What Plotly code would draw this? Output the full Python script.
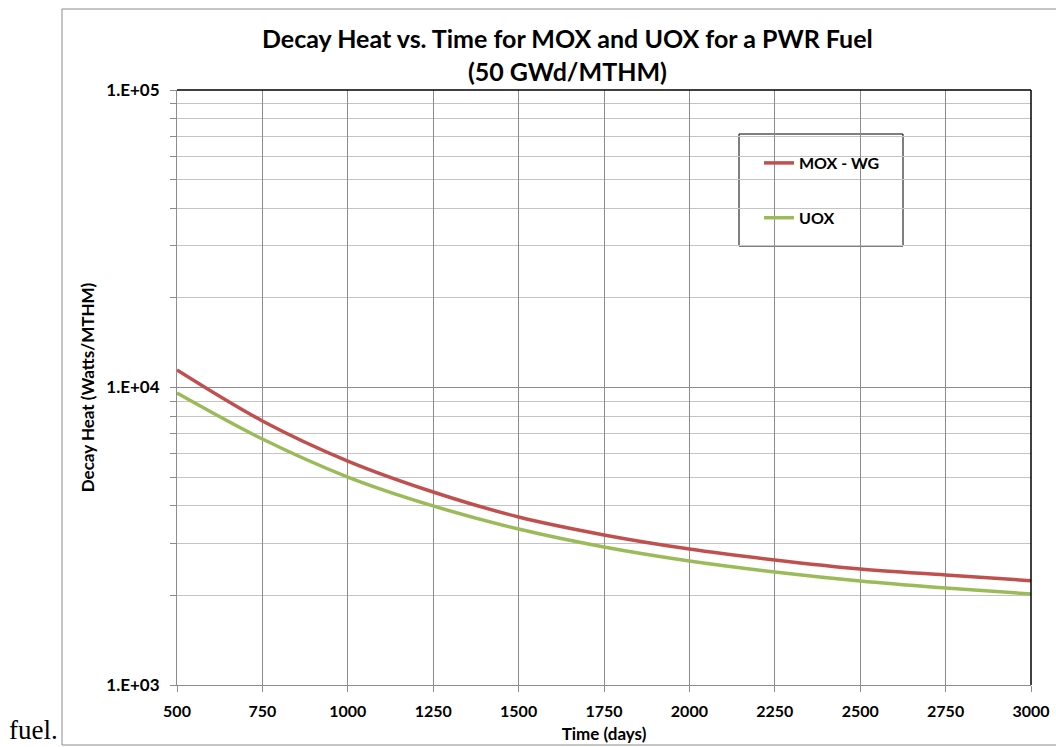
import plotly.graph_objects as go

days = [500, 750, 1000, 1250, 1500, 1750, 2000, 2250, 2500, 2750, 3000]
mox_wg = [11450, 7720, 5660, 4455, 3670, 3195, 2865, 2633, 2455, 2343, 2242]
uox = [9580, 6710, 5000, 3998, 3344, 2910, 2611, 2398, 2236, 2119, 2022]

x_ticks = [500, 750, 1000, 1250, 1500, 1750, 2000, 2250, 2500, 2750, 3000]
y_ticks = [1000, 10000, 100000]
y_tick_text = ["1.E+03", "1.E+04", "1.E+05"]
y_minor = [m * 10 ** e for e in (3, 4) for m in range(2, 10)]

title_lines = ["Decay Heat vs. Time for MOX and UOX for a PWR Fuel", "(50 GWd/MTHM)"]

FONT = "Lato"
W, H = 1056, 747
# plot area in page pixels: x 177..1031, y 90..685
L, R, T, B = 177, W - 1031, 90, H - 685
pw, ph = W - L - R, H - T - B


def px(x):  # page pixel -> paper x
    return (x - L) / pw


def py(y):  # page pixel -> paper y
    return (H - B - y) / ph


fig = go.Figure()
fig.add_trace(go.Scatter(x=days, y=mox_wg, name="MOX - WG", mode="lines",
                         line=dict(color="#C0504D", width=3.5, shape="spline"),
                         legendgroup="a"))
fig.add_trace(go.Scatter(x=days, y=uox, name="UOX", mode="lines",
                         line=dict(color="#9BBB59", width=3.5, shape="spline"),
                         legendgroup="b"))

fig.update_layout(
    width=W, height=H,
    margin=dict(l=L, r=R, t=T, b=B, autoexpand=False),
    paper_bgcolor="white", plot_bgcolor="white",
    font=dict(family=FONT, color="black"),
    showlegend=True,
    legend=dict(x=px(759), y=py(146), xanchor="left", yanchor="top",
                bgcolor="rgba(0,0,0,0)", borderwidth=0,
                font=dict(family=FONT, size=16, color="black", weight="bold"),
                tracegroupgap=31, traceorder="grouped"),
    xaxis=dict(range=[500, 3000], tickvals=x_ticks, automargin=False,
               tickfont=dict(family=FONT, size=16, weight="bold"),
               ticklabelstandoff=6,
               showgrid=True, gridcolor="#8c8c8c", gridwidth=1,
               showline=True, linecolor="#8c8c8c", linewidth=1,
               ticks="outside", ticklen=6, tickcolor="#8c8c8c",
               zeroline=False,
               title=dict(text="Time (days)", standoff=8,
                          font=dict(family=FONT, size=17, weight="bold"))),
    yaxis=dict(type="log", range=[3, 5], tickvals=y_ticks, ticktext=y_tick_text,
               automargin=False,
               tickfont=dict(family=FONT, size=17, weight="bold"),
               ticklabelstandoff=7,
               showgrid=True, gridcolor="#8c8c8c", gridwidth=1,
               showline=True, linecolor="#8c8c8c", linewidth=1,
               ticks="outside", ticklen=6, tickcolor="#8c8c8c",
               zeroline=False,
               minor=dict(tickvals=y_minor, showgrid=True, gridcolor="#c4c4c4",
                          gridwidth=1, ticks="outside", ticklen=6,
                          tickcolor="#8c8c8c"),
               title=dict(text="Decay Heat (Watts/MTHM)", standoff=7,
                          font=dict(family=FONT, size=17, weight="bold"))),
    shapes=[
        # chart frame
        dict(type="rect", xref="paper", yref="paper",
             x0=px(62), x1=px(1070), y0=py(745), y1=py(9),
             line=dict(color="#8c8c8c", width=1), fillcolor="rgba(0,0,0,0)",
             layer="below"),
        # plot area top and right border
        dict(type="line", xref="paper", yref="paper", x0=0, x1=1, y0=1, y1=1,
             line=dict(color="black", width=1.5)),
        dict(type="line", xref="paper", yref="paper", x0=1, x1=1, y0=0, y1=1,
             line=dict(color="black", width=1.5)),
        # legend box
        dict(type="rect", xref="paper", yref="paper",
             x0=px(739), x1=px(903), y0=py(246), y1=py(134),
             line=dict(color="black", width=1), fillcolor="white", layer="below"),
    ],
    annotations=[
        dict(text="<br>".join(title_lines), xref="paper", yref="paper",
             x=px(567), y=py(55), xanchor="center", yanchor="middle",
             showarrow=False,
             font=dict(family=FONT, size=25, weight="bold", color="black")),
        dict(text="fuel.", xref="paper", yref="paper", x=px(7), y=py(747),
             xanchor="left", yanchor="bottom", showarrow=False,
             font=dict(family="Liberation Serif", size=27, color="black")),
    ],
)

fig.write_html("out.html",
               config={"displayModeBar": False},
               post_script="document.body.style.margin='0';"
                           "document.body.style.overflow='hidden';")
